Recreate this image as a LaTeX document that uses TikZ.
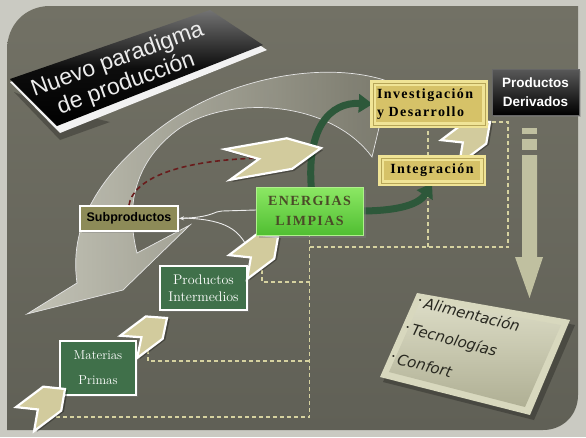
\documentclass[tikz,border=0pt]{standalone}
\usepackage{fontspec}
\newfontfamily\arialf{Liberation Sans}
\newfontfamily\timesf{Liberation Serif}
\newfontfamily\spacedserif[LetterSpace=10]{Liberation Serif}
\newfontfamily\comicf{DejaVu Sans}
\usetikzlibrary{arrows.meta,shadows}
\definecolor{framec}{RGB}{202,202,194}
\definecolor{bgtop}{RGB}{114,113,101}
\definecolor{bgbot}{RGB}{96,96,86}
\definecolor{chevc}{RGB}{210,203,157}
\definecolor{dgreen}{RGB}{45,88,58}
\definecolor{boxgreen}{RGB}{64,112,74}
\definecolor{olivec}{RGB}{141,139,88}
\definecolor{goldc}{RGB}{214,194,104}
\definecolor{goldrim}{RGB}{240,228,150}
\definecolor{dashc}{RGB}{214,210,160}
\definecolor{maroonc}{RGB}{105,28,28}
\definecolor{arrowc}{RGB}{192,192,160}
\definecolor{panelc}{RGB}{206,206,174}
\definecolor{swlight}{RGB}{205,205,192}
\definecolor{swdark}{RGB}{124,123,110}
\definecolor{energc}{RGB}{75,75,40}
\begin{document}
\begin{tikzpicture}[x=1pt,y=-1pt,
  chevstyle/.style={fill=chevc,draw=white,line width=2.2pt,line join=miter},
  pics/chev/.style n args={3}{code={
    \fill[black,opacity=.3,xshift=1.5pt,yshift=-2.5pt] (0,0) -- (-#3,#2/2) -- (-#1,#2/2) -- (-#1+#3,0) -- (-#1,-#2/2) -- (-#3,-#2/2) -- cycle;
    \draw[chevstyle] (0,0) -- (-#3,#2/2) -- (-#1,#2/2) -- (-#1+#3,0) -- (-#1,-#2/2) -- (-#3,-#2/2) -- cycle;}},
  greenbox/.style={fill=boxgreen,draw=white,line width=2pt,text=white,align=center,inner sep=0pt,
     drop shadow={shadow xshift=2pt,shadow yshift=-2pt,opacity=.4}},
  goldbox/.style={fill=goldc,draw=goldrim,line width=2.5pt,text=black,align=left,inner sep=0pt,
     double=goldc!85!black,double distance=0.6pt,
     drop shadow={shadow xshift=2pt,shadow yshift=-2pt,opacity=.4},
     font=\spacedserif\bfseries\fontsize{14}{18}\selectfont},
  dashline/.style={draw=dashc,line width=1.2pt,dash pattern=on 4pt off 3pt},
  garrow/.style={draw=dgreen,line width=7pt,-{Triangle[length=14pt,width=18pt]}},
  wline/.style={draw=white!85!gray,line width=0.9pt},
  listtext/.style={font=\comicf\itshape\fontsize{15}{17}\selectfont,text={rgb,255:red,40;green,40;blue,32},rotate=-14,anchor=west,inner sep=0pt}
]
\useasboundingbox (0,0) rectangle (586,437);
% background
\fill[framec] (0,0) rectangle (586,437);
\shade[top color=bgtop,bottom color=bgbot] (7,50) .. controls (7,25) and (25,6) .. (50,6) -- (578,6) -- (578,395) .. controls (578,415) and (563,430) .. (543,430) -- (7,430) -- cycle;

% big light swoosh
\path[left color=swlight,right color=swdark,draw=white!80!gray,line width=0.7pt,fill opacity=.9]
 (372,157) -- (390,82) .. controls (330,60) and (230,75) .. (160,128) .. controls (105,170) and (68,220) .. (77,283)
 -- (27,314) -- (123,290) -- (190,225) -- (137,253) .. controls (125,205) and (135,160) .. (180,128)
 .. controls (230,95) and (330,100) .. (372,157) -- cycle;

% title banner
\fill[black,opacity=.25] (14,92) -- (60,140) -- (110,122) -- (60,110) -- cycle;
\fill[white!90!gray] (10,82) -- (210,12) -- (267,50) -- (60,133) -- cycle;
\shade[top color=black!55,bottom color=black,middle color=black!95] (10,79) -- (210,10) -- (263,45) -- (57,126) -- cycle;
\node[rotate=20,align=center,text=white!85!gray,font=\arialf\fontsize{23}{25}\selectfont,inner sep=0pt] (title) at (122,72) {Nuevo paradigma\\de producción};

% connector coordinates
\coordinate (c4) at (47,412);
\coordinate (c3) at (148,350);
\coordinate (c2) at (262,270);
\coordinate (c5) at (492,122);
\coordinate (yb) at (309.5,417);
\coordinate (ym) at (309.5,361);
\coordinate (yi) at (309.5,282);
\coordinate (yr) at (309.5,247);
\coordinate (xr) at (508,247);
\coordinate (xq) at (428,247);
\coordinate (xt) at (508,122);

% dashed connectors
\draw[dashline] (c4) |- (yb) -- (309.5,235);
\draw[dashline] (c3) |- (ym);
\draw[dashline] (c2) |- (yi);
\draw[dashline] (yr) -- (xr) -- (xt) -- (c5);
\draw[dashline] (xq) -- (428,125);

% nodes
\node[greenbox,minimum width=76pt,minimum height=54pt,font=\fontsize{13}{25}\selectfont] (mat) at (98,368) {Materias\\Primas};
\node[greenbox,minimum width=87pt,minimum height=44pt,font=\fontsize{14}{17}\selectfont] (inter) at (203.5,288) {Productos\\Intermedios};
\node[fill=olivec,draw=white,line width=2pt,minimum width=98pt,minimum height=25pt,inner sep=0pt,
      font=\arialf\bfseries\fontsize{12.5}{14}\selectfont,drop shadow={shadow xshift=2pt,shadow yshift=-2pt,opacity=.4}] (sub) at (129,218.5) {Subproductos};

% white connectors to Subproductos
\coordinate (w2) at (245,243);
\draw[wline,-{Stealth[length=5pt,width=4pt]}] (256,210) -- (222,211) .. controls (214,211) and (214,217) .. (sub.east);
\draw[wline] (w2) .. controls (236,228) and (222,219) .. (182,218);

% maroon dashed
\draw[maroonc,line width=1.6pt,dash pattern=on 5pt off 3.5pt] (sub.north) .. controls (133,180) and (175,160) .. (262,158);

% placeholders for arrow ends
\node[minimum width=112pt,minimum height=42pt,inner sep=0pt] (invp) at (429,104) {};
\node[minimum width=102pt,minimum height=25pt,inner sep=0pt] (integp) at (432,170.5) {};
\draw[garrow] (311.5,190) .. controls (306,128) and (330,102) .. (invp.west);
\draw[garrow] (360,211) .. controls (393,211) and (418,206) .. (integp.south);

% chevrons
\pic[rotate=10] at (321,148) {chev={95}{31}{32}};
\pic[rotate=37] at (278,237) {chev={50}{30}{16}};
\pic[rotate=37] at (167,318) {chev={48}{28}{16}};
\pic[rotate=37] at (65,389) {chev={50}{30}{16}};
\pic[rotate=37] at (490,122) {chev={50}{30}{16}};

% ENERGIAS
\node[top color={rgb,255:red,140;green,232;blue,100},bottom color={rgb,255:red,80;green,190;blue,50},
      draw={rgb,255:red,175;green,240;blue,140},line width=1pt,minimum width=107pt,minimum height=48pt,inner sep=0pt,
      align=center,text=energc,font=\spacedserif\bfseries\fontsize{14}{20}\selectfont,
      drop shadow={shadow xshift=3pt,shadow yshift=-3pt,opacity=.45}] (ener) at (309.5,211) {ENERGIAS\\LIMPIAS};

% gold boxes
\node[goldbox,minimum width=112pt,minimum height=42pt,text width=104pt] (inv) at (429,104) {Investigación\\y Desarrollo};
\node[goldbox,minimum width=102pt,minimum height=25pt,align=center] (integ) at (432,170.5) {Integración};

% Productos Derivados
\node[top color=black!65,bottom color=black,draw=black!60,line width=0.5pt,minimum width=87pt,minimum height=46pt,inner sep=0pt,
      align=center,text=white,font=\arialf\bfseries\fontsize{13.5}{19}\selectfont,
      drop shadow={shadow xshift=2pt,shadow yshift=-2pt,opacity=.4}] (derv) at (535.5,92) {Productos\\Derivados};

% down arrow
\fill[arrowc] (522,128) rectangle (537,134);
\fill[arrowc] (522,139) rectangle (537,150);
\fill[arrowc] (522,155) -- (537,155) -- (537,257) -- (543,257) -- (529.5,298) -- (515,257) -- (522,257) -- cycle;

% list panel
\fill[black,opacity=.25] (421,297) -- (575,325) -- (534,420) -- (383,382) -- cycle;
\fill[panelc!80!white] (417,293) -- (570,320) -- (530,415) -- (380,377) -- cycle;
\shade[top color=panelc!70!white,bottom color=panelc!85!black] (421,300) -- (561,325) -- (525,407) -- (389,372) -- cycle;
\node[listtext] (l1) at (418,301) {\raisebox{4pt}{\fontsize{7}{7}\selectfont•}\,Alimentación};
\node[listtext] (l2) at (405,329) {\raisebox{4pt}{\fontsize{7}{7}\selectfont•}\,Tecnologías};
\node[listtext] (l3) at (391,357) {\raisebox{4pt}{\fontsize{7}{7}\selectfont•}\,Confort};
\end{tikzpicture}
\end{document}
